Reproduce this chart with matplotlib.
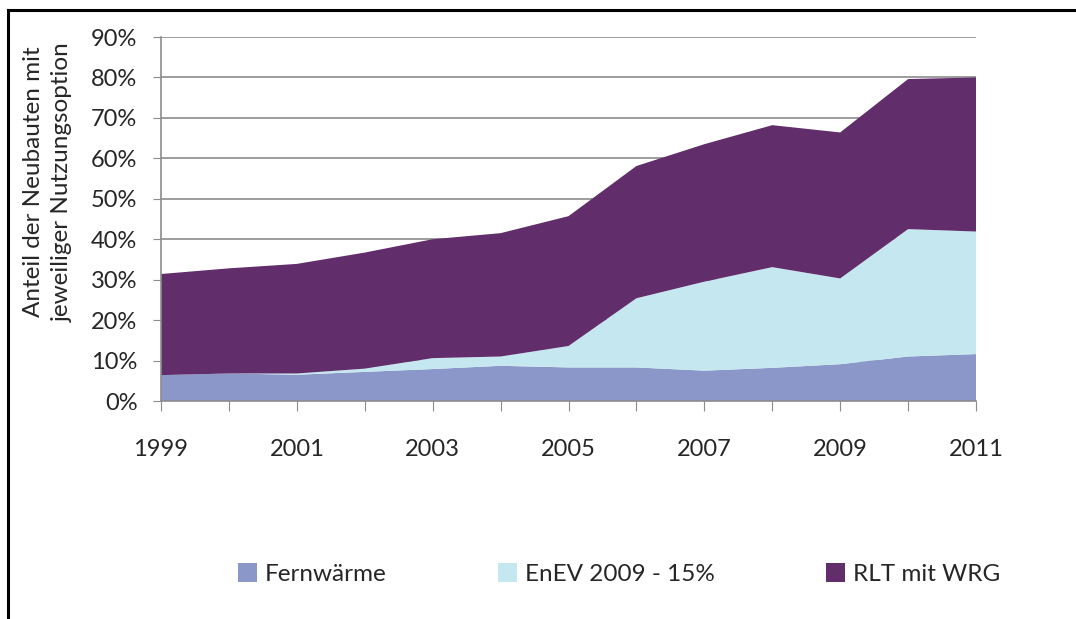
import matplotlib.pyplot as plt
from matplotlib.lines import Line2D
from matplotlib.patches import Patch
from matplotlib.ticker import PercentFormatter
import numpy as np

plt.rcParams['font.family'] = ['Lato', 'DejaVu Sans']

# --- Daten (Anteile in %) ---
jahre = [1999, 2000, 2001, 2002, 2003, 2004, 2005, 2006, 2007, 2008, 2009, 2010, 2011]
fernwaerme = [6.4, 6.8, 6.5, 7.2, 7.9, 8.7, 8.3, 8.3, 7.5, 8.2, 9.1, 11.0, 11.6]
enev_oben = [6.4, 6.8, 6.8, 8.0, 10.6, 11.0, 13.6, 25.4, 29.5, 33.1, 30.3, 42.5, 41.9]
gesamt = [31.4, 32.8, 33.9, 36.7, 40.0, 41.5, 45.7, 58.1, 63.5, 68.2, 66.4, 79.6, 80.0]

enev = list(np.array(enev_oben) - np.array(fernwaerme))
rlt = list(np.array(gesamt) - np.array(enev_oben))

namen = ['Fernwärme', 'EnEV 2009 - 15%', 'RLT mit WRG']
farben = ['#8b96c9', '#c5e7f0', '#612d6b']

W, H = 1076, 619


def main():
    fig = plt.figure(figsize=(W / 100, H / 100), dpi=100)
    ax = fig.add_axes([161 / W, 1 - 401 / H, 815 / W, 364 / H])

    ax.stackplot(jahre, fernwaerme, enev, rlt, colors=farben, linewidth=0, zorder=2)

    ax.set_xlim(jahre[0], jahre[-1])
    ax.set_ylim(0, 90)
    ax.set_yticks(range(0, 91, 10))
    ax.yaxis.set_major_formatter(PercentFormatter(decimals=0))
    ax.set_xticks(jahre)
    ax.set_xticklabels([str(j) if j % 2 == 1 else '' for j in jahre])

    ax.grid(axis='y', color='#8c8c8c', linewidth=1.2, zorder=1)
    ax.set_axisbelow(True)
    for s in ['top', 'right']:
        ax.spines[s].set_visible(False)
    for s in ['left', 'bottom']:
        ax.spines[s].set_color('#8c8c8c')
        ax.spines[s].set_linewidth(1.2)
        ax.spines[s].set_zorder(3)
    ax.tick_params(axis='y', length=6, color='#8c8c8c', labelsize=17, pad=11, labelcolor='#262626')
    ax.tick_params(axis='x', length=7, color='#8c8c8c', labelsize=17, pad=20, labelcolor='#262626')

    fig.text(48 / W, 1 - 182 / H, 'Anteil der Neubauten mit\njeweiliger Nutzungsoption',
             rotation=90, ha='center', va='center', multialignment='center',
             fontsize=17.5, color='#262626', linespacing=1.5)

    handles = [Patch(facecolor=f, edgecolor='none') for f in farben]
    fs = 17.5
    px = fs * 100 / 72
    fig.legend(handles, namen, loc='center left', bbox_to_anchor=(238 / W, 1 - 574 / H), ncol=3,
               frameon=False, fontsize=fs, handlelength=19 / px, handleheight=19 / px,
               handletextpad=8 / px, columnspacing=111 / px, borderpad=0, borderaxespad=0,
               labelcolor='#262626')

    # Rahmen links und oben
    fig.add_artist(Line2D([8 / W, 8 / W], [0, 1 - 10 / H], color='black', linewidth=2.2))
    fig.add_artist(Line2D([8 / W, 1], [1 - 10 / H, 1 - 10 / H], color='black', linewidth=2.2))

    fig.savefig('out.png', dpi=100)


main()
